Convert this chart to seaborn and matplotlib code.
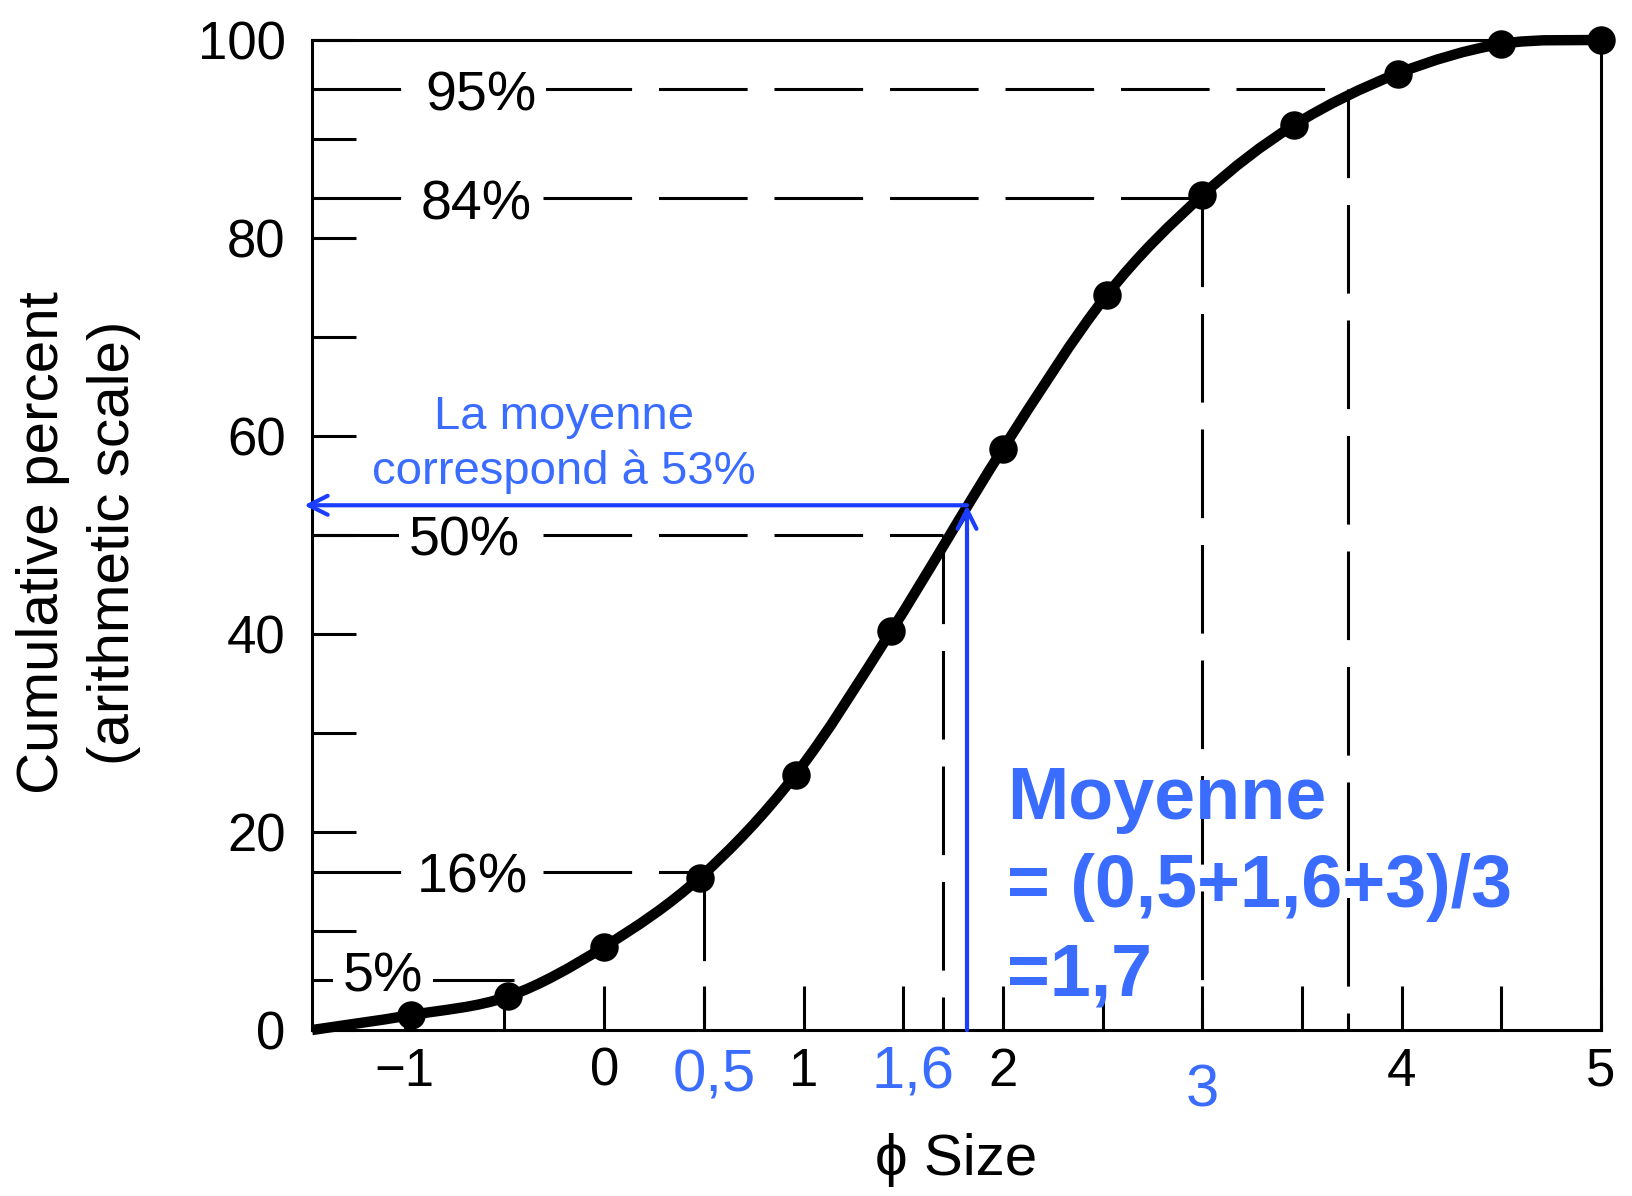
import numpy as np
import pandas as pd
import matplotlib
matplotlib.use("Agg")
import matplotlib.pyplot as plt
from matplotlib.path import Path
from matplotlib.patches import PathPatch
import seaborn as sns

# Cumulative grain-size curve (phi scale vs cumulative percent)
phi_size = [-0.97, -0.48, 0.0, 0.48, 0.96, 1.44, 2.0, 2.52, 3.0, 3.46, 3.98, 4.5, 5.0]
cum_percent = [1.5, 3.4, 8.4, 15.4, 25.8, 40.3, 58.7, 74.2, 84.3, 91.4, 96.6, 99.6, 100.0]
curve_start = (-1.465, 0.0)

# Percentile read-off lines
pct_levels = [5, 16, 50, 84, 95]
pct_labels = ["5%", "16%", "50%", "84%", "95%"]
pct_phi = [-0.45, 0.5, 1.70, 3.0, 3.73]
pct_drop = [False, True, True, True, True]
pct_label_x = [-1.11, -0.66, -0.70, -0.64, -0.62]

# Axis ticks
x_ticks = [-1, -0.5, 0, 0.5, 1, 1.5, 2, 2.5, 3, 3.5, 4, 4.5, 5]
x_tick_labels = ["\u22121", "", "0", "", "1", "", "2", "", "", "", "4", "", "5"]
y_ticks = [0, 10, 20, 30, 40, 50, 60, 70, 80, 90, 100]
y_tick_labels = ["0", "", "20", "", "40", "", "60", "", "80", "", "100"]

# Mean annotation
mean_phi = 1.82
mean_pct = 53
phi_marks = ["0,5", "1,6", "3"]
phi_marks_x = [0.55, 1.55, 3.0]
phi_marks_y = [-6.2, -5.9, -7.75]
mean_note = ["La moyenne", "correspond \u00e0 53%"]
mean_formula = ["Moyenne", "= (0,5+1,6+3)/3", "=1,7"]

BLUE_LINE = "#1a3dff"
BLUE_TEXT = "#3a6cff"
INK = "black"

sns.set_theme(style="white")
plt.rcParams["font.family"] = ["Liberation Sans", "DejaVu Sans"]
plt.rcParams["axes.unicode_minus"] = True

fig = plt.figure(figsize=(16.33, 11.96), dpi=100)
ax = fig.add_axes([0.1911, 0.1388, 0.7893, 0.8278])
ax.set_xlim(-1.465, 5.0)
ax.set_ylim(0, 100)

# Smooth curve through the points (Catmull-Rom as cubic Bezier segments)
P = np.column_stack([[curve_start[0]] + phi_size, [curve_start[1]] + cum_percent])
Q = np.vstack([P[0], P, P[-1]])
verts = [P[0]]
codes = [Path.MOVETO]
for i in range(len(P) - 1):
    p0, p1, p2, p3 = Q[i], Q[i + 1], Q[i + 2], Q[i + 3]
    verts += [p1 + (p2 - p0) / 6.0, p2 - (p3 - p1) / 6.0, p2]
    codes += [Path.CURVE4] * 3
ax.add_patch(PathPatch(Path(verts, codes), fill=False, lw=7.5, ec=INK,
                       joinstyle="round", capstyle="butt", clip_on=False, zorder=4))

df = pd.DataFrame({"phi": phi_size, "pct": cum_percent})
sns.scatterplot(data=df, x="phi", y="pct", s=420, color=INK, edgecolor=INK,
                linewidth=0, zorder=5, clip_on=False, ax=ax, legend=False)

# Dashed percentile lines
dash = (29, 8.8)
for lvl, px, drop in zip(pct_levels, pct_phi, pct_drop):
    ax.plot([-1.465, px], [lvl, lvl], color=INK, lw=2.2, dashes=dash, zorder=2)
    if drop:
        ax.plot([px, px], [lvl, 0], color=INK, lw=2.2, dashes=dash, zorder=2)

for lvl, lab, lx in zip(pct_levels, pct_labels, pct_label_x):
    base = 3.9 if lvl == 5 else lvl - 2.1
    ax.text(lx, base, lab, fontsize=40, color=INK, ha="center", va="baseline",
            zorder=3, bbox=dict(boxstyle="square,pad=0.18", fc="white", ec="none"))

# Axes styling: inward ticks on bottom and left only
ax.set_xticks(x_ticks)
ax.set_xticklabels(x_tick_labels)
ax.set_yticks(y_ticks)
ax.set_yticklabels(y_tick_labels)
ax.tick_params(axis="both", which="major", direction="in", length=32, width=2.2,
               color=INK, labelcolor=INK, labelsize=38,
               bottom=True, left=True, top=False, right=False)
ax.tick_params(axis="x", pad=12)
ax.tick_params(axis="y", pad=19)
for sp in ax.spines.values():
    sp.set_color(INK)
    sp.set_linewidth(2.2)
    sp.set_visible(True)
ax.grid(False)

ax.set_xlabel("\u03d5 Size", fontsize=42, color=INK, va="center")
ax.xaxis.set_label_coords(0.5, -0.131)
ax.set_ylabel("Cumulative percent\n(arithmetic scale)", fontsize=42, color=INK,
              linespacing=1.4, va="center")
ax.yaxis.set_label_coords(-0.181, 0.492)

# Mean read-off arrows
ax.annotate("", xy=(-1.505, mean_pct), xytext=(mean_phi, mean_pct),
            arrowprops=dict(arrowstyle="->", color=BLUE_LINE, lw=3, shrinkA=0, shrinkB=0,
                            mutation_scale=34),
            annotation_clip=False, zorder=6)
ax.annotate("", xy=(mean_phi, mean_pct), xytext=(mean_phi, 0),
            arrowprops=dict(arrowstyle="->", color=BLUE_LINE, lw=3, shrinkA=0, shrinkB=0,
                            mutation_scale=34),
            annotation_clip=False, zorder=6)

ax.text(-0.20, 60.7, mean_note[0], fontsize=34, color=BLUE_TEXT, ha="center", va="baseline", zorder=7)
ax.text(-0.20, 55.1, mean_note[1], fontsize=34, color=BLUE_TEXT, ha="center", va="baseline", zorder=7)

for txt, yb in zip(mean_formula, [21.3, 12.45, 3.5]):
    ax.text(2.02, yb, txt, fontsize=53, fontweight="bold", color=BLUE_TEXT,
            ha="left", va="baseline", zorder=7)

for txt, mx, my in zip(phi_marks, phi_marks_x, phi_marks_y):
    ax.text(mx, my, txt, fontsize=43, color=BLUE_TEXT, ha="center", va="baseline",
            clip_on=False, zorder=7)

fig.savefig("out.png", dpi=100)
